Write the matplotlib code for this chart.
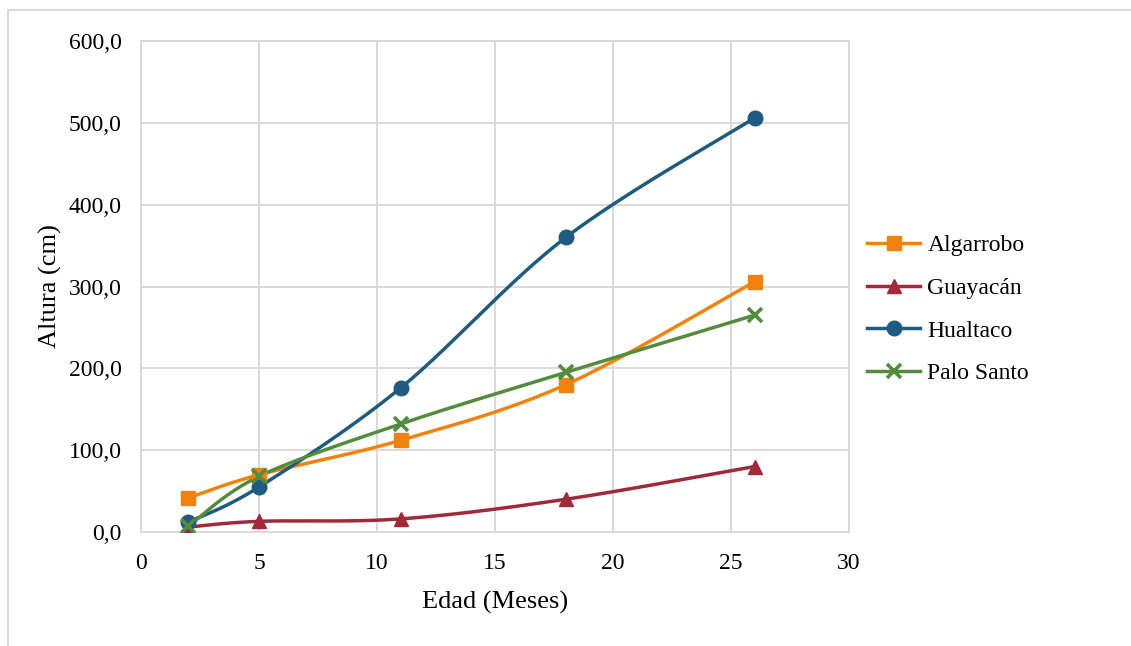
import numpy as np
import matplotlib.pyplot as plt
from matplotlib.lines import Line2D

plt.rcParams['font.family'] = ['Liberation Serif', 'DejaVu Serif']

# Altura promedio por especie y edad
edad = [2, 5, 11, 18, 26]
algarrobo = [41.5, 70.0, 112.0, 180.0, 306.0]
guayacan = [6.0, 13.0, 16.0, 40.0, 80.0]
hualtaco = [12.0, 55.0, 176.0, 360.0, 506.0]
palo_santo = [7.0, 68.0, 132.0, 195.0, 265.0]

series = [
    ('Algarrobo', algarrobo, '#F0820F', 's', 10.5),
    ('Guayacán', guayacan, '#A0293A', '^', 10.5),
    ('Hualtaco', hualtaco, '#1F5A80', 'o', 10.5),
    ('Palo Santo', palo_santo, '#548B3E', 'x', 10),
]


def smooth(xs, ys, n=40):
    # curva Bezier tipo Catmull-Rom (suavizado de Excel)
    p = np.column_stack([xs, ys]).astype(float)
    p_ext = np.vstack([p[0], p, p[-1]])
    out = []
    for i in range(len(p) - 1):
        p0, p1, p2, p3 = p_ext[i], p_ext[i + 1], p_ext[i + 2], p_ext[i + 3]
        c1 = p1 + (p2 - p0) / 6
        c2 = p2 - (p3 - p1) / 6
        t = np.linspace(0, 1, n)[:, None]
        seg = ((1 - t) ** 3) * p1 + 3 * ((1 - t) ** 2) * t * c1 + 3 * (1 - t) * t ** 2 * c2 + t ** 3 * p2
        out.append(seg if i == 0 else seg[1:])
    out = np.vstack(out)
    return out[:, 0], out[:, 1]


fig = plt.figure(figsize=(11.31, 6.46), dpi=100)
ax = fig.add_axes([0.1247, 0.1765, 0.626, 0.76])

handles = []
for name, vals, color, marker, ms in series:
    sx, sy = smooth(edad, vals)
    ax.plot(sx, sy, color=color, lw=2.5, solid_capstyle='round', zorder=3)
    mew = 2.6 if marker == 'x' else 1
    ax.plot(edad, vals, ls='none', marker=marker, ms=ms, color=color, mew=mew, zorder=4)
    handles.append(Line2D([0], [0], color=color, lw=2.5, marker=marker, ms=ms, mew=mew))

ax.set_xlim(0, 30)
ax.set_ylim(0, 600)
ax.set_xticks(range(0, 31, 5))
ax.set_yticks(range(0, 601, 100))
ax.set_yticklabels([f'{v},0' for v in range(0, 601, 100)])
ax.grid(True, color='#D9D9D9', lw=1.4)
ax.set_axisbelow(True)
for s in ax.spines.values():
    s.set_color('#D9D9D9')
    s.set_linewidth(1.4)
ax.tick_params(length=0, labelsize=17)
ax.tick_params(axis='y', pad=14)
ax.tick_params(axis='x', pad=15)
ax.set_xlabel('Edad (Meses)', fontsize=19, labelpad=12)
ax.set_ylabel('Altura (cm)', fontsize=19, labelpad=5)

fig.legend(handles, [s[0] for s in series], loc='center left',
           bbox_to_anchor=(0.748, 0.521), frameon=False, fontsize=17,
           handlelength=2.25, labelspacing=0.9, handletextpad=0.3)

# marco del gráfico
fig.add_artist(Line2D([8 / 1131, 8 / 1131], [0, 1 - 10 / 646], transform=fig.transFigure,
                      color='#D9D9D9', lw=1.5))
fig.add_artist(Line2D([8 / 1131, 1], [1 - 10 / 646, 1 - 10 / 646], transform=fig.transFigure,
                      color='#D9D9D9', lw=1.5))

fig.savefig('out.png', dpi=100)
